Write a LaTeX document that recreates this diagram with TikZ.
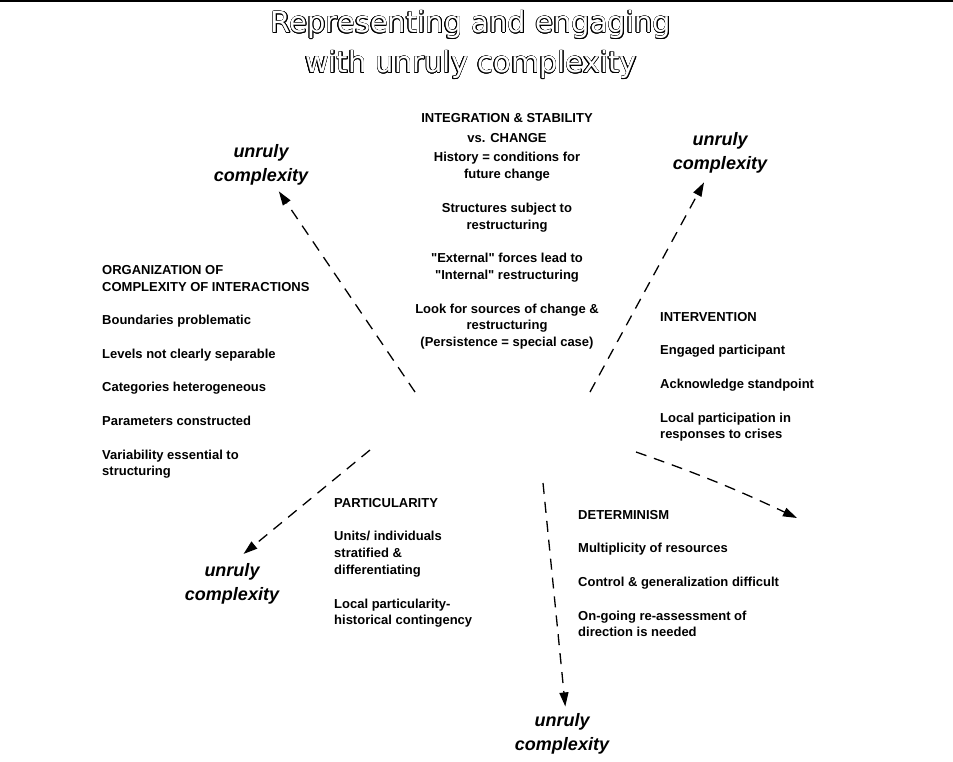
\documentclass[tikz,border=0pt]{standalone}
\usepackage{fontspec}
\setmainfont{Liberation Sans}
\newfontfamily\titlefont{DejaVu Sans}
\usepackage[copies]{contour}
\contourlength{0.6pt}
\usetikzlibrary{arrows.meta}
\tikzset{
	heading/.style={font=\titlefont\fontsize{29}{40}\selectfont, align=center, inner sep=0, text=white},
	block/.style={font=\bfseries\fontsize{13}{16.8}\selectfont, align=left, anchor=north west, inner sep=0},
	unruly/.style={font=\bfseries\itshape\fontsize{18}{24}\selectfont, align=center, inner sep=0},
	spoke/.style={dash pattern=on 11pt off 8pt, line width=1.3pt, -{Triangle[length=14pt,width=9pt]}}
}

\begin{document}
\begin{tikzpicture}[x=1pt,y=-1pt]
		\useasboundingbox (0,0) rectangle (953,761);
		\draw[line width=2pt] (0,1) -- (953,1);
		\node (title) at (471,45) [heading] {\contour{black}{Representing and engaging}\\\contour{black}{with unruly complexity}};
		\node (change) at (507,113) [block, anchor=north, align=center] {INTEGRATION \& STABILITY\\[3pt]
				vs. CHANGE\\[3pt]
				History = conditions for\\
				future change\\[16.8pt]
				Structures subject to\\
				restructuring\\[16.8pt]
				\textquotedbl External\textquotedbl{} forces lead to\\
				\textquotedbl Internal\textquotedbl{} restructuring\\[16.8pt]
				Look for sources of change \&\\
				restructuring\\
				(Persistence = special case)};
		\node (organization) at (102,265) [block] {ORGANIZATION OF\\
				COMPLEXITY OF INTERACTIONS\\[16.8pt]
				Boundaries problematic\\[16.8pt]
				Levels not clearly separable\\[16.8pt]
				Categories heterogeneous\\[16.8pt]
				Parameters constructed\\[16.8pt]
				Variability essential to\\
				structuring};
		\node (intervention) at (660,312) [block] {INTERVENTION\\[16.8pt]
				Engaged participant\\[16.8pt]
				Acknowledge standpoint\\[16.8pt]
				Local participation in\\
				responses to crises};
		\node (particularity) at (334,498) [block] {PARTICULARITY\\[16.8pt]
				Units/ individuals\\
				stratified \&\\
				differentiating\\[16.8pt]
				Local particularity-\\
				historical contingency};
		\node (determinism) at (578,510) [block] {DETERMINISM\\[16.8pt]
				Multiplicity of resources\\[16.8pt]
				Control \& generalization difficult\\[16.8pt]
				On-going re-assessment of\\
				direction is needed};
		\node (ul) at (261,165) [unruly] {unruly\\complexity};
		\node (ur) at (720,153) [unruly] {unruly\\complexity};
		\node (ll) at (232,584) [unruly] {unruly\\complexity};
		\node (bot) at (562,734) [unruly] {unruly\\complexity};
		\coordinate (o1) at (415,392);
		\coordinate (o2) at (590,392);
		\coordinate (o3) at (636,452);
		\coordinate (t3) at (797,518);
		\coordinate (o4) at (543,483);
		\coordinate (o5) at (370,450);
		\draw[spoke, shorten >=7pt] (o1) -- (ul);
		\draw[spoke, shorten >=10pt] (o2) -- (ur);
		\draw[spoke] (o3) to[bend left=3] (t3);
		\draw[spoke, shorten >=7pt] (o4) -- ([xshift=4pt]bot.north);
		\draw[spoke, shorten >=15pt] (o5) -- (ll.north);
	\end{tikzpicture}
\end{document}
